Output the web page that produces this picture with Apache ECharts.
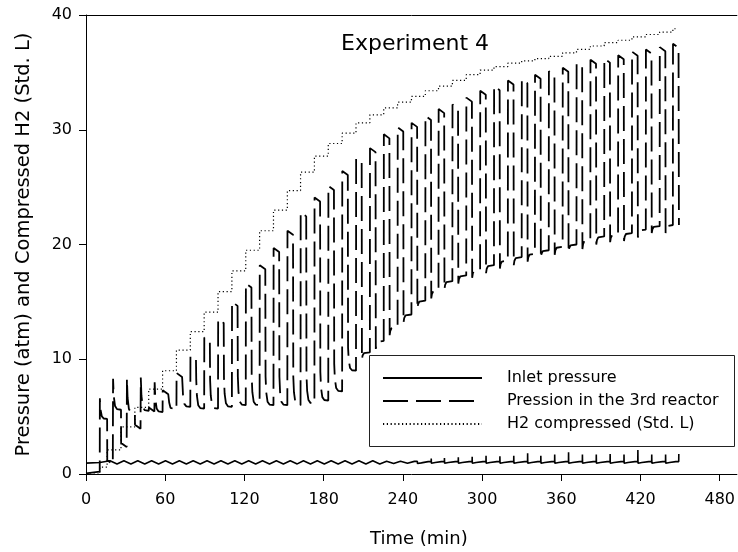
<!DOCTYPE html>
<html><head><meta charset="utf-8">
<script src="https://cdn.jsdelivr.net/npm/echarts@6/dist/echarts.min.js"></script>
<style>html,body{margin:0;padding:0;background:#fff}#c{width:738px;height:552px}</style>
</head><body><div id="c"></div>
<script>
// ---- data (time in min, values in atm / Std. L) ----
const xTicks = [0, 60, 120, 180, 240, 300, 360, 420, 480];
const yTicks = [0, 10, 20, 30, 40];
const seriesNames = ['Inlet pressure', 'Pression in the 3rd reactor', 'H2 compressed (Std. L)'];

// start time of each compression cycle
const cycleStart = [16, 26.5, 37, 47.5, 58, 68.5, 79, 89.5, 100, 110.5, 121, 131.5, 142, 152.5, 162.5, 173, 183.5, 194, 204.5, 215,
  225.5, 236, 246.5, 257, 267, 277.5, 288, 298.5, 309, 319.5, 330, 340, 350.5, 361, 371.5, 382, 392.5, 403, 413.5, 424, 434.5, 444.5];
// 3rd reactor pressure: plateau level, level right after the switch, level at end of cycle
const reactorPlateau = [1.2, 2.7, 4.3, 5.8, 7.3, 8.8, 10.3, 11.9, 13.5, 15.0, 16.6, 18.2, 19.7, 21.2, 22.8, 24.1, 25.1, 26.4, 27.5, 28.4,
  29.6, 30.2, 30.6, 31.2, 31.8, 32.2, 32.8, 33.4, 33.8, 34.3, 34.4, 34.8, 35.1, 35.4, 35.8, 36.1, 36.2, 36.5, 36.8, 37.0, 37.2, 37.5];
const reactorAfter = [8.3, 8.3, 8.4, 8.0, 7.0, 8.0, 8.2, 8.2, 8.4, 8.5, 8.5, 8.5, 8.5, 8.5, 8.6, 8.9, 9.6, 11.0, 10.0, 10.9,
  12.1, 13.2, 14.4, 15.3, 16.1, 16.6, 17.1, 17.5, 17.9, 18.2, 18.5, 18.8, 19.1, 19.3, 19.6, 20.0, 20.2, 20.3, 20.6, 21.0, 21.0, 21.7];
const reactorLow = [5.6, 5.3, 5.5, 5.4, 5.6, 5.85, 5.7, 5.7, 5.85, 6.0, 6.0, 6.0, 6.0, 6.0, 6.15, 6.4, 7.2, 9.0, 10.6, 11.6,
  12.8, 13.9, 15.1, 16.0, 16.8, 17.3, 17.8, 18.2, 18.6, 18.9, 19.2, 19.5, 19.8, 20.0, 20.4, 20.7, 20.9, 21.0, 21.3, 21.6, 21.7, 21.9];
const reactorStartTime = [0, 10.4];
const reactorStartValue = [0.05, 0.2];
const reactorStartSwitch = 10.5, reactorStartAfter = 6.6, reactorStartLow = 4.8;

// compressed H2 after each cycle
const h2StartTime = [0, 10.5];
const h2StartValue = [0, 0.6];
const h2Step = [2.1, 4.1, 5.8, 7.4, 9.0, 10.8, 12.4, 14.1, 15.9, 17.7, 19.5, 21.2, 23.0, 24.7, 26.3, 27.7, 28.8, 29.7, 30.6, 31.3,
  31.9, 32.4, 32.9, 33.4, 33.8, 34.3, 34.8, 35.2, 35.5, 35.8, 36.0, 36.2, 36.4, 36.7, 37.0, 37.3, 37.6, 37.8, 38.1, 38.3, 38.5, 38.8];
const h2EndTime = 448;

// inlet pressure: crest, trough and switching spike per cycle (0 = no spike)
const inletStartTime = [0, 10.5];
const inletStartValue = [0.95, 1.0];
const inletCrest = [1.15, 1.15, 1.15, 1.15, 1.15, 1.15, 1.15, 1.15, 1.15, 1.15, 1.15, 1.15, 1.15, 1.15, 1.15, 1.15, 1.15, 1.15, 1.15, 1.15,
  1.12, 1.12, 1.1, 1.08, 1.08, 1.08, 1.08, 1.08, 1.08, 1.08, 1.08, 1.08, 1.08, 1.08, 1.08, 1.08, 1.08, 1.08, 1.08, 1.08, 1.08, 1.08];
const inletTrough = [0.88, 0.88, 0.88, 0.88, 0.88, 0.88, 0.88, 0.88, 0.88, 0.88, 0.88, 0.88, 0.88, 0.88, 0.88, 0.88, 0.88, 0.88, 0.88, 0.88,
  0.92, 0.94, 0.97, 1.0, 1.0, 1.0, 1.0, 1.0, 1.0, 1.0, 1.0, 1.0, 1.0, 1.0, 1.0, 1.0, 1.0, 1.0, 1.0, 1.0, 1.0, 1.0];
const inletSpike = [0, 0, 0, 0, 0, 0, 0, 0, 0, 0, 0, 0, 0, 0, 0, 0, 0, 0, 0, 0,
  0, 0, 1.25, 1.35, 1.4, 1.45, 1.5, 1.6, 1.55, 1.6, 1.8, 1.6, 1.7, 1.9, 1.7, 1.7, 1.75, 1.7, 2.1, 1.7, 1.7, 1.75];

// ---- build the line data from the arrays ----
const PLATEAU = 4.5;
function lowPhase(d, t0, a, l, tNext) {
  d.push([t0, a], [t0 + 0.5, a + (l - a) * 0.55], [t0 + 1.5, a + (l - a) * 0.88], [t0 + 3, a + (l - a) * 0.98], [tNext, l]);
}
const reactor = [];
reactorStartTime.forEach((t, i) => reactor.push([t, reactorStartValue[i]]));
lowPhase(reactor, reactorStartSwitch, reactorStartAfter, reactorStartLow, cycleStart[0]);
cycleStart.forEach((T, k) => {
  const P = reactorPlateau[k];
  reactor.push([T + 0.1, P], [T + 1.2, P - 0.1], [T + PLATEAU - 0.2, P - 0.35]);
  if (k + 1 < cycleStart.length) lowPhase(reactor, T + PLATEAU, reactorAfter[k], reactorLow[k], cycleStart[k + 1]);
  else reactor.push([T + PLATEAU + 0.1, reactorAfter[k]]);
});

const h2 = [];
h2StartTime.forEach((t, i) => h2.push([t, h2StartValue[i]]));
cycleStart.forEach((T, k) => h2.push([T, h2Step[k]]));
h2.push([h2EndTime, h2Step[h2Step.length - 1]]);

const inlet = [];
inletStartTime.forEach((t, i) => inlet.push([t, inletStartValue[i]]));
cycleStart.forEach((T, k) => {
  inlet.push([T + 2.2, inletCrest[k]]);
  const last = k === cycleStart.length - 1;
  if (inletSpike[k] > 0) {
    inlet.push([T + PLATEAU - 0.05, inletCrest[k]], [T + PLATEAU, inletSpike[k]]);
    if (!last) inlet.push([T + PLATEAU + 0.1, inletTrough[k] - 0.06]);
  }
  if (!last) inlet.push([T + 7.5, inletTrough[k]]);
});

const FONT = 'DejaVu Sans';
const chart = echarts.init(document.getElementById('c'), null, {renderer: 'canvas'});
chart.setOption({
  animation: false,
  backgroundColor: '#fff',
  grid: {left: 86, right: 1, top: 15, bottom: 78, show: false},
  xAxis: [{
    type: 'value', min: 0, max: 493, position: 'bottom',
    axisLine: {show: true, onZero: false, lineStyle: {color: '#000', width: 1}},
    axisTick: {show: true, length: 7, customValues: xTicks, lineStyle: {color: '#000'}},
    axisLabel: {customValues: xTicks, fontSize: 16, fontFamily: FONT, color: '#000', margin: 18},
    splitLine: {show: false}
  }, {
    type: 'value', min: 0, max: 493, position: 'top',
    axisLine: {show: true, onZero: false, lineStyle: {color: '#000', width: 1}},
    axisTick: {show: false}, axisLabel: {show: false}, splitLine: {show: false}
  }],
  yAxis: {
    type: 'value', min: 0, max: 40, interval: 10,
    axisLine: {show: true, onZero: false, lineStyle: {color: '#000', width: 1}},
    axisTick: {show: true, length: 7, lineStyle: {color: '#000'}},
    axisLabel: {fontSize: 16, fontFamily: FONT, color: '#000', margin: 14},
    splitLine: {show: false},
    name: 'Pressure (atm) and Compressed H2 (Std. L)', nameLocation: 'middle', nameGap: 52,
    nameTextStyle: {fontSize: 19.5, fontFamily: FONT, color: '#000'}
  },
  legend: {
    orient: 'vertical', left: 382, top: 370, padding: 0,
    itemWidth: 99, itemHeight: 16, itemGap: 7,
    data: seriesNames,
    itemStyle: {opacity: 0, color: 'transparent', borderColor: 'transparent', borderWidth: 0},
    textStyle: {fontSize: 16, fontFamily: FONT, color: '#000', padding: [0, 0, 0, 20], lineHeight: 16}
  },
  graphic: [
    {type: 'rect', shape: {x: 369.5, y: 355.5, width: 365, height: 91}, style: {fill: 'none', stroke: '#222', lineWidth: 1}},
    {type: 'text', left: 341, top: 33, style: {text: 'Experiment 4', font: '22px "DejaVu Sans"', fill: '#000'}},
    {type: 'text', left: 370, top: 530, style: {text: 'Time (min)', font: '18px "DejaVu Sans"', fill: '#000'}}
  ],
  series: [
    {name: seriesNames[0], type: 'line', data: inlet, symbol: 'none', lineStyle: {color: '#000', width: 1.6, type: 'solid'}, z: 3},
    {name: seriesNames[1], type: 'line', data: reactor, symbol: 'none', lineStyle: {color: '#000', width: 1.8, type: [25, 8]}, z: 2},
    {name: seriesNames[2], type: 'line', data: h2, step: 'end', symbol: 'none', lineStyle: {color: '#000', width: 1.2, type: [1.2, 2.6]}, z: 2}
  ]
});
</script></body></html>
